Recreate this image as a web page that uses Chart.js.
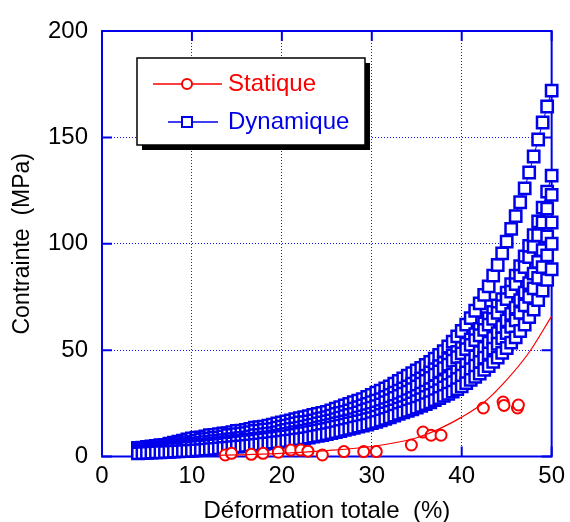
<!DOCTYPE html>
<html>
<head>
<meta charset="utf-8">
<script src="https://cdn.jsdelivr.net/npm/chart.js@4/dist/chart.umd.min.js"></script>
<style>
  html, body { margin: 0; padding: 0; background: #fff; }
  #wrap { width: 570px; height: 522px; position: relative; }
</style>
</head>
<body>
<div id="wrap"><canvas id="c" width="570" height="522"></canvas></div>
<script>
// ---- data ----
const xTickValues = [0, 10, 20, 30, 40, 50];
const yTickValues = [0, 50, 100, 150, 200];
const xTitle = 'Déformation totale  (%)';
const yTitle = 'Contrainte  (MPa)';
const legendStatique = 'Statique';
const legendDynamique = 'Dynamique';

const dynX = [4,4.5,5,5.5,6,6.5,7,7.5,8,8.5,
  9,9.5,10,10.5,11,11.5,12,12.5,13,13.5,
  14,14.5,15,15.5,16,16.5,17,17.5,18,18.5,
  19,19.5,20,20.5,21,21.5,22,22.5,23,23.5,
  24,24.5,25,25.5,26,26.5,27,27.5,28,28.5,
  29,29.5,30,30.5,31,31.5,32,32.5,33,33.5,
  34,34.5,35,35.5,36,36.5,37,37.5,38,38.5,
  39,39.5,40,40.5,41,41.5,42,42.5,43,43.5,
  44,44.5,45,45.5,46,46.5,47,47.5,48,48.5,
  49,49.5,50];
const dynA = [4,4.2,4.5,4.8,5,5.3,5.5,6,6.5,7,
  7.5,8,8.5,8.8,9,9.5,10,10.2,10.5,10.8,
  11,11.5,12,12.2,12.5,13,13.5,13.8,14,14.5,
  15,15.5,16,16.5,17,17.5,18,18.5,19,19.5,
  20,20.5,21,21.7,22.5,23.2,24,24.7,25.5,26.2,
  27,28,29,30,31,32,33,34.2,35.5,36.7,
  38,39.2,40.5,41.7,43,44.5,46,47.7,49.5,51.7,
  54,56.5,59,62,65,68.5,72,76,80,85,
  90,95.5,101,107,113,119.5,126,133.5,141,149,
  157,164.5,172];
const dynB = [3.5,3.7,4,4.2,4.5,4.7,5,5.2,5.5,6,
  6.5,6.7,7,7.5,8,8.2,8.5,8.7,9,9.5,
  10,10.2,10.5,10.7,11,11.5,12,12.2,12.5,12.7,
  13,13.5,14,14.5,15,15.5,16,16.2,16.5,17,
  17.5,18,18.5,19.2,20,20.5,21,21.7,22.5,23.2,
  24,24.7,25.5,26.2,27,28,29,30,31,32,
  33,34.2,35.5,36.7,38,39.5,41,42.5,44,45.7,
  47.5,49.2,51,53,55,57.5,60,62.5,65,68,
  71,74,77,81,85,89.5,94,99,104,110.5,
  117,124.5,132];
const dynC = [3,3.2,3.5,3.7,4,4.2,4.5,4.7,5,5.2,
  5.5,5.7,6,6.2,6.5,6.7,7,7.2,7.5,7.7,
  8,8.2,8.5,8.7,9,9.5,10,10.2,10.5,10.7,
  11,11.5,12,12.5,13,13.2,13.5,14,14.5,15,
  15.5,16,16.5,17,17.5,18.2,19,19.5,20,20.7,
  21.5,22.2,23,23.7,24.5,25.5,26.5,27.5,28.5,29.5,
  30.5,31.7,33,34.2,35.5,37,38.5,40,41.5,43.2,
  45,46.7,48.5,50.5,52.5,54.7,57,59.5,62,64.7,
  67.5,70.7,74,77.5,81,85,89,93.7,98.5,104,
  110,116.5,123];
const dynD = [2.8,3,3.1,3.2,3.4,3.5,3.7,3.9,4.1,4.3,
  4.5,4.7,5,5.2,5.4,5.6,5.8,6,6.3,6.5,
  6.8,7,7.3,7.5,7.8,8,8.3,8.5,8.8,9,
  9.4,9.8,10.2,10.6,11,11.4,11.8,12.2,12.6,13,
  13.5,14,14.5,15,15.5,16,16.5,17,17.6,18.2,
  18.8,19.4,20,20.7,21.4,22.2,23,23.8,24.6,25.5,
  26.5,27.5,28.5,29.5,30.5,31.7,33,34.2,35.5,37,
  38.5,40,41.5,43.2,45,47,49,51,53.5,55.7,
  58,61,64,67,70,73.5,77,81.5,86,91.5,
  97,103.5,110];
const dynE = [2.3,2.4,2.5,2.6,2.8,2.9,3,3.2,3.4,3.6,
  3.8,4,4.2,4.4,4.6,4.8,5,5.2,5.4,5.7,
  6,6.2,6.5,6.8,7,7.2,7.5,7.8,8,8.3,
  8.6,8.9,9.2,9.5,9.8,10.2,10.6,11,11.4,11.8,
  12.2,12.6,13,13.5,14,14.5,15,15.5,16,16.5,
  17,17.5,18,18.7,19.5,20.2,21,21.7,22.5,23.2,
  24,25,26,27,28,29,30,31.2,32.5,33.7,
  35,36.5,38,39.5,41,42.7,44.5,46.5,48.5,50.7,
  53,55.5,58,61,64,67.5,71,75,79,84,
  89,94.5,100];
const dynF = [1.5,1.6,1.7,1.8,1.9,2,2.1,2.2,2.3,2.4,
  2.5,2.6,2.7,2.9,3,3.2,3.4,3.6,3.8,4,
  4.2,4.4,4.6,4.8,5,5.2,5.5,5.7,6,6.2,
  6.5,6.8,7,7.3,7.6,7.9,8.2,8.5,8.9,9.3,
  9.7,10.1,10.5,11,11.5,12,12.5,13,13.5,14,
  14.5,15,15.7,16.3,17,17.7,18.4,19.2,20,20.7,
  21.5,22.2,23,23.8,24.6,25.5,26.5,27.5,28.5,29.5,
  30.5,31.7,33,34.5,36,37.5,39,40.7,42.5,44.5,
  46.5,48.7,51,53.5,56,59,62,65.5,69,73.5,
  78,83,88];

const statX = [13.7,14.4,16.6,17.9,19.6,21.0,22.1,22.9,24.5,26.9,29.1,30.5,34.4,35.7,36.6,37.7,42.4,44.6,44.7,46.2,46.3];
const statY = [0.7,1.5,1.0,1.5,2.0,3.0,3.0,2.5,0.7,2.3,2.3,2.3,5.4,11.5,10,10,22.8,25.6,24,22.8,24.2];

const fitX = [13,15,20,25,30,33,35,37.5,40,42.5,45,47.5,50];
const fitY = [0.5,0.8,1.5,2.8,4.7,6.8,8.8,13,18.5,25.5,36,49,66];

// ---- styles ----
const BLUE = 'rgb(0,0,235)';
const RED = 'rgb(250,0,0)';
const FONT = '"Liberation Sans", Arial, Helvetica, sans-serif';

function pts(xs, ys) { return xs.map((x, i) => ({x: x, y: ys[i]})); }

function dynSet(ys) {
  return {
    data: pts(dynX, ys),
    showLine: true,
    borderColor: BLUE,
    borderWidth: 1,
    pointStyle: 'rect',
    pointRadius: 8,
    pointBorderWidth: 2.5,
    pointBorderColor: BLUE,
    pointBackgroundColor: '#fff',
    clip: false,
    order: 2
  };
}

const framePlugin = {
  id: 'frame',
  beforeDatasetsDraw(chart) {
    const {ctx, chartArea: a, scales: {x, y}} = chart;
    ctx.save();
    ctx.strokeStyle = BLUE;
    ctx.lineWidth = 2;
    ctx.strokeRect(a.left, a.top, a.right - a.left, a.bottom - a.top);
    const L = 10;
    ctx.beginPath();
    xTickValues.forEach(v => {
      const px = x.getPixelForValue(v);
      ctx.moveTo(px, a.bottom); ctx.lineTo(px, a.bottom - L);
      ctx.moveTo(px, a.top); ctx.lineTo(px, a.top + L);
    });
    yTickValues.forEach(v => {
      const py = y.getPixelForValue(v);
      ctx.moveTo(a.left, py); ctx.lineTo(a.left + L, py);
      ctx.moveTo(a.right, py); ctx.lineTo(a.right - L, py);
    });
    ctx.stroke();
    ctx.restore();
  },
  afterDraw(chart) {
    const ctx = chart.ctx;
    ctx.save();
    const bx = 137, by = 58, bw = 228, bh = 87;
    ctx.fillStyle = '#000';
    ctx.fillRect(bx + 5, by + 5, bw, bh);
    ctx.fillStyle = '#fff';
    ctx.fillRect(bx, by, bw, bh);
    ctx.strokeStyle = '#000';
    ctx.lineWidth = 1.5;
    ctx.strokeRect(bx, by, bw, bh);
    const y1 = 84, y2 = 122, mx = 187;
    ctx.strokeStyle = RED;
    ctx.lineWidth = 1.5;
    ctx.beginPath(); ctx.moveTo(153, y1); ctx.lineTo(222, y1); ctx.stroke();
    ctx.fillStyle = '#fff';
    ctx.lineWidth = 2;
    ctx.beginPath(); ctx.arc(mx, y1, 5, 0, Math.PI * 2); ctx.fill(); ctx.stroke();
    ctx.strokeStyle = BLUE;
    ctx.lineWidth = 1.5;
    ctx.beginPath(); ctx.moveTo(168, y2); ctx.lineTo(218, y2); ctx.stroke();
    ctx.lineWidth = 2;
    ctx.fillRect(mx - 5, y2 - 5, 10, 10);
    ctx.strokeRect(mx - 5, y2 - 5, 10, 10);
    ctx.font = '24px ' + FONT;
    ctx.textBaseline = 'middle';
    ctx.textAlign = 'left';
    ctx.fillStyle = RED;
    ctx.fillText(legendStatique, 228, y1);
    ctx.fillStyle = BLUE;
    ctx.fillText(legendDynamique, 228, y2);
    ctx.restore();
  }
};

new Chart(document.getElementById('c'), {
  type: 'scatter',
  data: {
    datasets: [
      {
        data: pts(fitX, fitY),
        showLine: true,
        borderColor: RED,
        borderWidth: 1.2,
        pointRadius: 0,
        cubicInterpolationMode: 'monotone',
        clip: false,
        order: 0
      },
      {
        data: pts(statX, statY),
        showLine: false,
        pointStyle: 'circle',
        pointRadius: 5.5,
        pointBorderWidth: 2,
        pointBorderColor: RED,
        pointBackgroundColor: '#fff',
        clip: false,
        order: 1
      },
      dynSet(dynF), dynSet(dynE), dynSet(dynD), dynSet(dynC), dynSet(dynB), dynSet(dynA)
    ]
  },
  options: {
    responsive: false,
    animation: false,
    events: [],
    layout: { padding: { left: 0, top: 31, right: 14, bottom: 0 } },
    plugins: { legend: { display: false }, tooltip: { enabled: false } },
    scales: {
      x: {
        type: 'linear', min: 0, max: 50,
        afterBuildTicks: s => { s.ticks = xTickValues.map(v => ({value: v})); },
        afterFit: s => { s.height = 65.5; },
        ticks: { color: '#000', padding: 5, font: { family: FONT, size: 24 } },
        grid: { color: 'rgb(20,20,255)', lineWidth: 1, drawTicks: false },
        border: { display: false, dash: [1, 2] },
        title: { display: true, text: xTitle, color: '#000', padding: { top: 0, bottom: 0 },
                 font: { family: FONT, size: 24, lineHeight: 0.85 } }
      },
      y: {
        type: 'linear', min: 0, max: 200,
        afterBuildTicks: s => { s.ticks = yTickValues.map(v => ({value: v})); },
        afterFit: s => { s.width = 102; },
        ticks: { color: '#000', padding: 14, font: { family: FONT, size: 24 } },
        grid: { color: 'rgb(20,20,255)', lineWidth: 1, drawTicks: false },
        border: { display: false, dash: [1, 2] },
        title: { display: true, text: yTitle, color: '#000', padding: { top: 11, bottom: 0 },
                 font: { family: FONT, size: 23, lineHeight: 1 } }
      }
    }
  },
  plugins: [framePlugin]
});
</script>
</body>
</html>
